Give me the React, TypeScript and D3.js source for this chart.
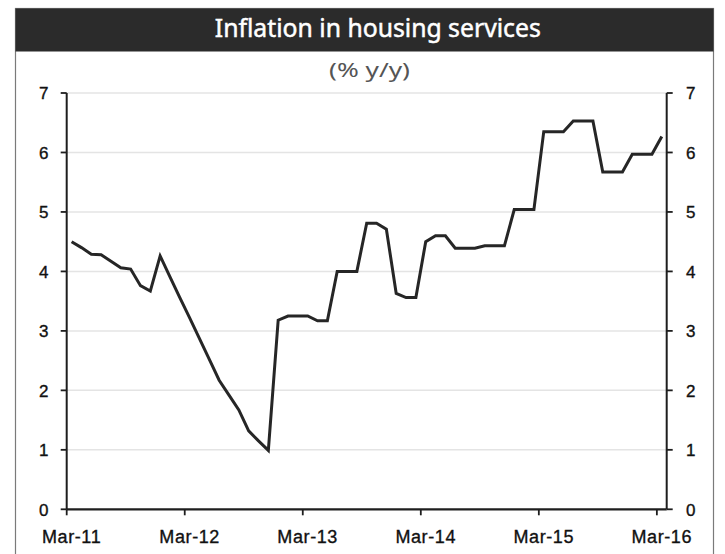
import React from "react";
import * as d3 from "d3";

const TITLE = "Inflation in housing services";
const SUBTITLE = "(% y/y)";

// Monthly categories Mar-11 .. Mar-16
const fmt = d3.timeFormat("%b-%y");
const months: string[] = d3
  .timeMonths(new Date(2011, 2, 1), new Date(2016, 3, 1))
  .map((d) => fmt(d));

// Housing services inflation, % y/y
const values: number[] = [
  4.5, 4.4, 4.29, 4.28, 4.17, 4.06, 4.04, 3.76, 3.67, 4.26,
  3.91, 3.56, 3.22, 2.87, 2.52, 2.17, 1.92, 1.67, 1.32, 1.15,
  0.99, 3.18, 3.25, 3.25, 3.25, 3.17, 3.17, 4.0, 4.0, 4.0,
  4.81, 4.81, 4.71, 3.63, 3.56, 3.56, 4.5, 4.6, 4.6, 4.39,
  4.39, 4.39, 4.43, 4.43, 4.43, 5.04, 5.04, 5.04, 6.35, 6.35,
  6.35, 6.53, 6.53, 6.53, 5.67, 5.67, 5.67, 5.97, 5.97, 5.97,
  6.27,
];

const xTickLabels: string[] = ["Mar-11", "Mar-12", "Mar-13", "Mar-14", "Mar-15", "Mar-16"];
const yTicks: number[] = [0, 1, 2, 3, 4, 5, 6, 7];

const W = 725;
const H = 554;
const PL = 66.7;
const PR = 666.7;
const PT = 93;
const PB = 509.3;

export default function App() {
  const x = d3.scaleBand<string>().domain(months).range([PL, PR]).padding(0);
  const y = d3.scaleLinear().domain([0, 7]).range([PB, PT]);
  const bw = x.bandwidth();

  const line = d3
    .line<number>()
    .x((_, i) => (x(months[i]) as number) + bw / 2)
    .y((v) => y(v));

  const axisColor = "#1e1e1e";
  const tickFont = "'Liberation Sans', Arial, sans-serif";

  return (
    <svg
      width={W}
      height={H}
      style={{ position: "absolute", left: 0, top: 0, background: "#fff" }}
    >
      <rect x={0} y={0} width={W} height={H} fill="#fff" />
      {/* outer frame */}
      <rect x={15.5} y={8.5} width={698} height={560} fill="none" stroke="#7a7a7a" strokeWidth={1.2} />
      {/* title bar */}
      <rect x={15.5} y={8.5} width={698} height={43} fill="#2b2b2b" />
      <text
        x={377.8}
        y={37}
        textAnchor="middle"
        fill="#fff"
        stroke="#fff"
        strokeWidth={0.5}
        fontFamily="'Noto Sans', 'Open Sans', sans-serif"
        fontSize={26}
        textLength={326}
        lengthAdjust="spacingAndGlyphs"
      >
        {TITLE}
      </text>
      <text
        x={369.5}
        y={77}
        textAnchor="middle"
        fill="#555"
        fontFamily="'Noto Sans', 'Open Sans', sans-serif"
        fontSize={19}
        textLength={81}
        lengthAdjust="spacingAndGlyphs"
      >
        {SUBTITLE}
      </text>

      {/* gridlines */}
      {yTicks
        .filter((t) => t > 0)
        .map((t) => (
          <line key={"g" + t} x1={PL} x2={PR} y1={y(t)} y2={y(t)} stroke="#e4e4e4" strokeWidth={1.5} />
        ))}

      {/* left axis */}
      <line x1={PL} x2={PL} y1={PT} y2={PB} stroke={axisColor} strokeWidth={2} />
      {yTicks.map((t) => (
        <g key={"l" + t}>
          <line x1={PL - 6} x2={PL} y1={y(t)} y2={y(t)} stroke={axisColor} strokeWidth={1.8} />
          <text
            x={48.5}
            y={y(t) + 6.2}
            textAnchor="end"
            fontFamily={tickFont}
            fontSize={17}
            fill="#111"
            stroke="#111"
            strokeWidth={0.35}
          >
            {t}
          </text>
        </g>
      ))}

      {/* right axis */}
      <line x1={PR} x2={PR} y1={PT} y2={PB} stroke={axisColor} strokeWidth={2} />
      {yTicks.map((t) => (
        <g key={"r" + t}>
          <line x1={PR} x2={PR + 6} y1={y(t)} y2={y(t)} stroke={axisColor} strokeWidth={1.8} />
          <text
            x={686}
            y={y(t) + 6.2}
            textAnchor="start"
            fontFamily={tickFont}
            fontSize={17}
            fill="#111"
            stroke="#111"
            strokeWidth={0.35}
          >
            {t}
          </text>
        </g>
      ))}

      {/* x axis */}
      <line x1={PL} x2={PR} y1={PB} y2={PB} stroke={axisColor} strokeWidth={2.2} />
      {xTickLabels.map((m) => {
        const x0 = x(m) as number;
        return (
          <g key={m}>
            <line x1={x0} x2={x0} y1={PB} y2={PB + 6} stroke={axisColor} strokeWidth={1.8} />
            <text
              x={x0 + bw / 2}
              y={542.5}
              textAnchor="middle"
              fontFamily={tickFont}
              fontSize={18}
              letterSpacing={0.6}
              fill="#111"
              stroke="#111"
              strokeWidth={0.35}
            >
              {m}
            </text>
          </g>
        );
      })}

      {/* data line */}
      <path
        d={line(values) || ""}
        fill="none"
        stroke="#262626"
        strokeWidth={3}
        strokeLinejoin="miter"
        strokeMiterlimit={3}
      />
    </svg>
  );
}
